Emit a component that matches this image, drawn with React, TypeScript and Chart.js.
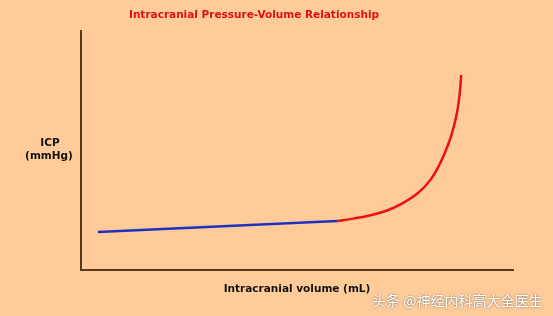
import React, { useEffect, useRef } from "react";
import { Chart, registerables } from "chart.js";

Chart.register(...registerables);

const titleText = "Intracranial Pressure-Volume Relationship";
const xLabel = "Intracranial volume (mL)";
const yLabelLines = ["ICP", "(mmHg)"];
const watermark = "头条 @神经内科高大全医生";

// compliant (blue) segment: volume vs ICP (arbitrary units)
const blueVolume = [3.9, 59.3];
const blueIcp = [15.9, 20.5];

// decompensated (red) segment
const redVolume = [59.3, 63.0, 67.0, 71.0, 74.5, 78.0, 80.8, 83.1, 85.0, 86.3, 87.2, 87.7, 88.0];
const redIcp = [20.5, 21.5, 22.9, 25.0, 28.0, 32.2, 37.5, 44.5, 52.5, 60.0, 67.5, 74.5, 81.6];

const BG = "#FFCC99";
const AXIS = "#5a3a1e";

export default function App() {
  const ref = useRef<HTMLCanvasElement | null>(null);
  useEffect(() => {
    if (!ref.current) return;
    const textPlugin = {
      id: "texts",
      beforeDraw(chart: any) {
        const ctx = chart.ctx;
        ctx.save();
        ctx.fillStyle = BG;
        ctx.fillRect(0, 0, chart.width, chart.height);
        ctx.restore();
      },
      afterDraw(chart: any) {
        const ctx = chart.ctx;
        const a = chart.chartArea;
        ctx.save();
        ctx.textAlign = "center";
        ctx.textBaseline = "middle";
        ctx.font = "bold 10.5px 'DejaVu Sans', sans-serif";
        ctx.fillStyle = "#e01010";
        ctx.fillText(titleText, 254, 15);
        ctx.fillStyle = "#111111";
        ctx.fillText(yLabelLines[0], 50, 143);
        ctx.fillText(yLabelLines[1], 49, 156);
        ctx.fillText(xLabel, (a.left + a.right) / 2, 289);
        ctx.font = "14px 'Noto Sans CJK SC', sans-serif";
        ctx.textAlign = "left";
        ctx.shadowColor = "rgba(60,60,60,0.8)";
        ctx.shadowBlur = 2;
        ctx.fillStyle = "#ffffff";
        ctx.fillText(watermark, 372, 301);
        ctx.restore();
      },
    };
    const chart = new Chart(ref.current, {
      type: "line",
      data: {
        datasets: [
          {
            data: blueVolume.map((v, i) => ({ x: v, y: blueIcp[i] })),
            borderColor: "#2030c0",
            borderWidth: 2.5,
            pointRadius: 0,
            fill: false,
          },
          {
            data: redVolume.map((v, i) => ({ x: v, y: redIcp[i] })),
            borderColor: "#ee1111",
            borderWidth: 2.5,
            pointRadius: 0,
            tension: 0.4,
            fill: false,
          },
        ],
      },
      options: {
        animation: false,
        responsive: false,
        maintainAspectRatio: false,
        layout: { padding: { left: 73, top: 31, right: 40, bottom: 38 } },
        plugins: { legend: { display: false }, tooltip: { enabled: false }, title: { display: false } },
        scales: {
          x: {
            type: "linear",
            min: 0,
            max: 100,
            grid: { display: false },
            ticks: { display: false },
            border: { display: true, color: AXIS, width: 2 },
          },
          y: {
            type: "linear",
            min: 0,
            max: 100,
            grid: { display: false },
            ticks: { display: false },
            border: { display: true, color: AXIS, width: 2 },
          },
        },
      },
      plugins: [textPlugin],
    } as any);
    return () => chart.destroy();
  }, []);
  return (
    <div style={{ position: "fixed", left: 0, top: 0, width: 553, height: 316, background: BG }}>
      <canvas ref={ref} width={553} height={316} style={{ width: 553, height: 316 }} />
    </div>
  );
}
